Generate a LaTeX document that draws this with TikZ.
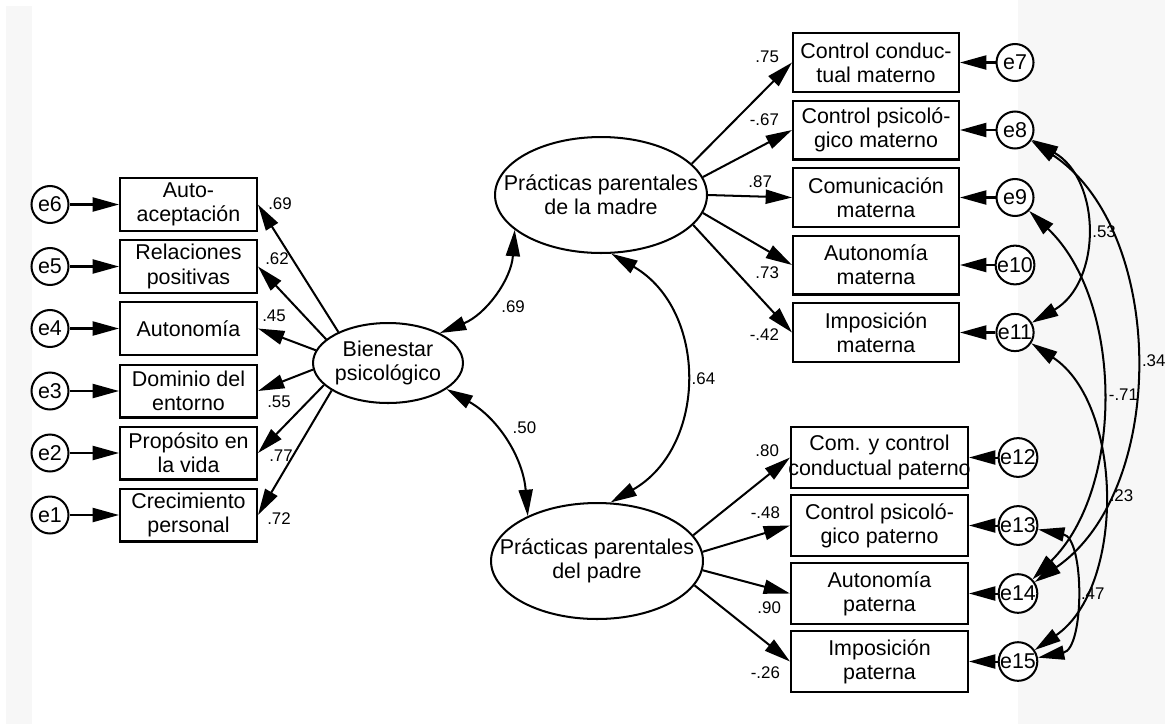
\documentclass[tikz,border=0pt]{standalone}
\usepackage{fontspec}
\setmainfont{Liberation Sans}
\usetikzlibrary{arrows.meta,shapes.geometric}

\newcommand{\lbox}[1]{\makebox[0pt]{#1}}

\begin{document}
\begin{tikzpicture}[x=0.02cm,y=-0.02cm,
  every node/.style={font=\fontsize{12.2}{13.8}\selectfont},
  obs/.style={draw,line width=1.15pt,fill=white,align=center,inner sep=0pt},
  indl/.style={obs,minimum width=2.74cm,minimum height=1.06cm},
  indm/.style={obs,minimum width=3.32cm,minimum height=1.18cm},
  indp/.style={obs,minimum width=3.54cm,minimum height=1.22cm},
  lat/.style={draw,ellipse,line width=1.15pt,fill=white,align=center,inner sep=0pt},
  err/.style={draw,circle,line width=1.15pt,fill=white,minimum size=0.74cm,inner sep=0pt},
  lbl/.style={font=\fontsize{9.6}{11}\selectfont,inner sep=1pt},
  reg/.style={line width=1.15pt,-{Triangle[length=15pt,width=8pt]}},
  cov/.style={line width=1.15pt,{Triangle[length=15pt,width=8pt]}-{Triangle[length=15pt,width=8pt]}}]

\useasboundingbox (0,0) rectangle (1165,724);
\fill[white] (0,0) rectangle (1165,724);
\fill[black!3] (6,6) rectangle (32,724);
\fill[black!3] (1018,0) rectangle (1165,724);

\node[lat,minimum width=3cm,minimum height=1.6cm] (bien) at (388,363) {\lbox{Bienestar}\\\lbox{psicológico}};
\node[lat,minimum width=4.24cm,minimum height=2.32cm] (madre) at (601,195) {\lbox{Prácticas parentales}\\\lbox{de la madre}};
\node[lat,minimum width=4.24cm,minimum height=2.32cm] (padre) at (597,561) {\lbox{Prácticas parentales}\\\lbox{del padre}};

\node[indl] (acep) at (188.5,204.5) {Auto-\\aceptación};
\node[indl] (rel) at (188.5,266.5) {Relaciones\\positivas};
\node[indl] (autn) at (188.5,328.5) {Autonomía};
\node[indl] (dom) at (188.5,391) {Dominio del\\entorno};
\node[indl] (prop) at (188.5,453) {Propósito en\\la vida};
\node[indl] (crec) at (188.5,515) {Crecimiento\\personal};

\node[err] (e6) at (50,204.5) {e6};
\node[err] (e5) at (50,266.5) {e5};
\node[err] (e4) at (50,328.5) {e4};
\node[err] (e3) at (50,391) {e3};
\node[err] (e2) at (50,453) {e2};
\node[err] (e1) at (50,515) {e1};

\node[indm] (ccm) at (876,62.5) {Control conduc-\\tual materno};
\node[indm] (cpm) at (876,130) {Control psicoló-\\gico materno};
\node[indm] (cmm) at (876,197.5) {Comunicación\\materna};
\node[indm] (aum) at (876,265) {Autonomía\\materna};
\node[indm] (imm) at (876,332.5) {Imposición\\materna};

\node[indp] (ccp) at (879.5,457.5) {Com. y control\\\lbox{conductual paterno}};
\node[indp] (cpp) at (879.5,525.5) {Control psicoló-\\gico paterno};
\node[indp] (aup) at (879.5,593.5) {Autonomía\\paterna};
\node[indp] (imp) at (879.5,661.5) {Imposición\\paterna};

\node[err] (e7) at (1015,62.5) {e7};
\node[err] (e8) at (1015,130) {e8};
\node[err] (e9) at (1015,197.5) {e9};
\node[err] (e10) at (1015,265) {e10};
\node[err] (e11) at (1015,332.5) {e11};
\node[err] (e12) at (1018,457.5) {e12};
\node[err] (e13) at (1018,525.5) {e13};
\node[err] (e14) at (1018,593.5) {e14};
\node[err] (e15) at (1018,661.5) {e15};

\draw[reg] (e6) -- (acep);
\draw[reg] (e5) -- (rel);
\draw[reg] (e4) -- (autn);
\draw[reg] (e3) -- (dom);
\draw[reg] (e2) -- (prop);
\draw[reg] (e1) -- (crec);

\draw[reg] (e7) -- (ccm);
\draw[reg] (e8) -- (cpm);
\draw[reg] (e9) -- (cmm);
\draw[reg] (e10) -- (aum);
\draw[reg] (e11) -- (imm);
\draw[reg] (e12) -- (ccp);
\draw[reg] (e13) -- (cpp);
\draw[reg] (e14) -- (aup);
\draw[reg] (e15) -- (imp);

\draw[reg] (bien.148) -- (acep.east);
\draw[reg] (bien.159) -- (rel.east);
\draw[reg] (bien.170) -- (autn.east);
\draw[reg] (bien.185) -- (dom.east);
\draw[reg] (bien.199) -- (prop.east);
\draw[reg] (bien.206) -- (crec.east);

\draw[reg] (madre.19) -- (ccm.west);
\draw[reg] (madre.10) -- (cpm.west);
\draw[reg] (madre.0) -- (cmm.west);
\draw[reg] (madre.350) -- (aum.west);
\draw[reg] (madre.342) -- (imm.west);

\draw[reg] (padre.15) -- (ccp.west);
\draw[reg] (padre.5) -- (cpp.west);
\draw[reg] (padre.355) -- (aup.west);
\draw[reg] (padre.346) -- (imp.west);

\draw[cov] (bien.30) to[bend right=32] node[lbl,below right=3pt] (c1) {.69} (madre.202);
\draw[cov] (bien.336) to[bend left=28] node[lbl,above right=3pt] (c2) {.50} (padre.147);
\draw[cov] (madre.280) to[bend left=60,looseness=1.15] node[lbl,right=3pt] (c3) {.64} (padre.77);

\draw[cov] (e8) to[bend left=60,looseness=1.13] node[lbl,right=3pt] (c4) {.53} (e11);
\draw[cov] (e8) to[bend left=56,looseness=0.94] node[lbl,right=3pt] (c5) {.34} (e14);
\draw[cov] (e9) to[bend left=46,looseness=0.9] node[lbl,right=3pt] (c6) {-.71} (e14);
\draw[cov] (e11) to[bend left=56,looseness=0.92] node[lbl,right=3pt] (c7) {.23} (e15);
\draw[cov] (e13) to[bend left=79,looseness=0.95] node[lbl,right=3pt] (c8) {.47} (e15);

\node[lbl] (w1) at (280,204) {.69};
\node[lbl] (w2) at (277,259) {.62};
\node[lbl] (w3) at (274,316) {.45};
\node[lbl] (w4) at (279,402) {.55};
\node[lbl] (w5) at (281,456) {.77};
\node[lbl] (w6) at (279,519) {.72};

\node[lbl,anchor=east] (w7) at (781,57) {.75};
\node[lbl,anchor=east] (w8) at (781,120) {-.67};
\node[lbl,anchor=east] (w9) at (774,182) {.87};
\node[lbl,anchor=east] (w10) at (781,273) {.73};
\node[lbl,anchor=east] (w11) at (781,335) {-.42};

\node[lbl,anchor=east] (w12) at (781,451) {.80};
\node[lbl,anchor=east] (w13) at (782,513) {-.48};
\node[lbl,anchor=east] (w14) at (783,608) {.90};
\node[lbl,anchor=east] (w15) at (782,673) {-.26};

\end{tikzpicture}
\end{document}
